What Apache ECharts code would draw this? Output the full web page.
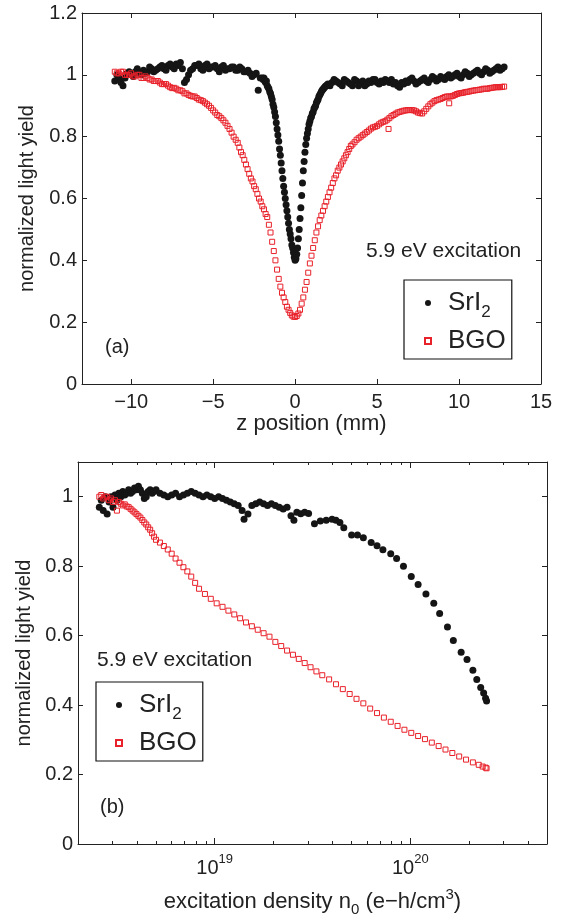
<!DOCTYPE html>
<html>
<head>
<meta charset="utf-8">
<script src="https://cdn.jsdelivr.net/npm/echarts@6/dist/echarts.min.js"></script>
<style>
html,body{margin:0;padding:0;background:#fff;}
#chart{width:562px;height:919px;}
</style>
</head>
<body>
<div id="chart"></div>
<script>
// ---------- Panel (a): light yield vs z position ----------
const srZ = [-11,-10.75,-10.5,-10.25,-10,-9.75,-9.5,-9.25,-9,-8.75,-8.5,-8.25,-8,-7.75,-7.5,-7.25,-7,-6.75,-6.5,-6.25,-6,-5.75,-5.5,-5.25,-5,-4.75,-4.5,-4.25,-4,-3.75,-3.5,-3.25,-3,-2.75,-2.5,-2.25,
  -2,-1.95,-1.9,-1.85,-1.8,-1.75,-1.7,-1.65,-1.6,-1.55,-1.5,-1.45,-1.4,-1.35,-1.3,-1.25,-1.2,-1.15,-1.1,-1.05,-1,-0.95,-0.9,-0.85,-0.8,-0.75,-0.7,-0.65,-0.6,-0.55,-0.5,-0.45,-0.4,-0.35,-0.3,-0.25,-0.2,-0.15,-0.1,-0.05,0,
  0.05,0.1,0.15,0.2,0.25,0.3,0.35,0.4,0.45,0.5,0.55,0.6,0.65,0.7,0.75,0.8,0.85,0.9,0.95,1,1.05,1.1,1.15,1.2,1.25,1.3,1.35,1.4,1.45,1.5,1.55,1.6,1.65,1.7,1.75,1.8,1.85,1.9,1.95,2,
  2.25,2.5,2.75,3,3.25,3.5,3.75,4,4.25,4.5,4.75,5,5.25,5.5,5.75,6,6.25,6.5,6.75,7,7.25,7.5,7.75,8,8.25,8.5,8.75,9,9.25,9.5,9.75,10,10.25,10.5,10.75,11,11.25,11.5,11.75,12,12.25,12.5,12.75];
const srYieldZ = [0.98,0.99,0.965,1.005,1.0,1.01,1.005,1.015,1.01,1.02,1.015,1.025,1.02,1.03,1.025,1.035,1.04,0.975,1.0,1.02,1.03,1.02,1.03,1.02,1.025,1.02,1.025,1.015,1.02,1.025,1.015,1.02,1.01,1.005,1.0,0.95,
  0.99,0.985,0.99,0.98,0.975,0.98,0.965,0.96,0.955,0.945,0.94,0.93,0.92,0.905,0.895,0.88,0.865,0.845,0.825,0.805,0.785,0.76,0.74,0.715,0.69,0.665,0.64,0.62,0.6,0.58,0.56,0.54,0.52,0.5,0.485,0.47,0.45,0.44,0.425,0.41,0.40,
  0.405,0.42,0.44,0.47,0.5,0.535,0.57,0.61,0.65,0.69,0.72,0.75,0.775,0.795,0.81,0.825,0.84,0.85,0.86,0.865,0.875,0.88,0.89,0.895,0.9,0.91,0.915,0.92,0.93,0.935,0.94,0.945,0.95,0.953,0.957,0.96,0.963,0.965,0.967,0.97,
  0.975,0.98,0.97,0.985,0.975,0.965,0.98,0.975,0.965,0.98,0.985,0.975,0.98,0.985,0.975,0.97,0.965,0.975,0.98,0.985,0.98,0.975,0.985,0.98,0.985,0.99,0.985,0.99,0.995,0.99,1.0,0.995,1.0,1.005,1.0,1.01,1.005,1.01,1.015,1.01,1.02,1.015,1.025];
// in-between scan positions on the flat wings
const srZMid = [-10.875,-10.625,-10.375,-10.125,-9.875,-9.625,-9.375,-9.125,-8.875,-8.625,-8.375,-8.125,-7.875,-7.625,-7.375,-7.125,-6.875,-6.625,-6.375,-6.125,-5.875,-5.625,-5.375,-5.125,-4.875,-4.625,-4.375,-4.125,-3.875,-3.625,-3.375,-3.125,-2.875,-2.625,-2.375,-2.125,
  2.125,2.375,2.625,2.875,3.125,3.375,3.625,3.875,4.125,4.375,4.625,4.875,5.125,5.375,5.625,5.875,6.125,6.375,6.625,6.875,7.125,7.375,7.625,7.875,8.125,8.375,8.625,8.875,9.125,9.375,9.625,9.875,10.125,10.375,10.625,10.875,11.125,11.375,11.625,11.875,12.125,12.375,12.625];
const srYieldZMid = [1.0,0.975,0.99,1.01,0.995,1.02,1.0,1.005,1.025,1.01,1.02,1.03,1.015,1.035,1.02,1.03,1.02,0.985,1.015,1.03,1.035,1.015,1.035,1.025,1.03,1.01,1.03,1.02,1.025,1.015,1.025,1.01,1.015,0.995,1.005,0.99,
  0.965,0.985,0.975,0.965,0.98,0.97,0.985,0.965,0.98,0.97,0.975,0.985,0.97,0.975,0.98,0.985,0.975,0.96,0.97,0.975,0.99,0.97,0.98,0.99,0.975,0.995,0.98,0.995,0.985,1.0,0.995,1.005,0.99,1.01,0.995,1.005,1.015,1.0,1.02,1.005,1.015,1.025,1.02];

const bgoZ = [-11,-10.75,-10.5,-10.25,-10,-9.75,-9.5,-9.25,-9,-8.75,-8.5,-8.25,-8,-7.75,-7.5,-7.25,-7,-6.75,-6.5,-6.25,-6,-5.75,-5.5,-5.25,-5,-4.75,-4.5,-4.25,-4,-3.75,-3.5,
  -3.4,-3.3,-3.2,-3.1,-3,-2.9,-2.8,-2.7,-2.6,-2.5,-2.4,-2.3,-2.2,-2.1,-2,-1.9,-1.8,-1.7,-1.6,-1.5,-1.4,-1.3,-1.2,-1.1,-1,-0.9,-0.8,-0.7,-0.6,-0.5,-0.4,-0.3,-0.2,-0.1,0,
  0.1,0.2,0.3,0.4,0.5,0.6,0.7,0.8,0.9,1,1.1,1.2,1.3,1.4,1.5,1.6,1.7,1.8,1.9,2,2.1,2.2,2.3,2.4,2.5,2.6,2.7,2.8,2.9,3,3.1,3.2,3.3,3.4,
  3.5,3.75,4,4.25,4.5,4.75,5,5.25,5.5,5.75,6,6.25,6.5,6.75,7,7.25,7.5,7.75,8,8.25,8.5,8.75,9,9.25,9.5,9.75,10,10.25,10.5,10.75,11,11.25,11.5,11.75,12,12.25,12.5,12.75,
  5.7,9.4];
const bgoYieldZ = [1.01,1.005,1.01,1.0,1.005,0.995,1.0,0.99,0.99,0.985,0.98,0.975,0.97,0.965,0.957,0.955,0.95,0.94,0.935,0.93,0.925,0.918,0.91,0.9,0.885,0.87,0.86,0.845,0.825,0.8,0.78,
  0.765,0.75,0.74,0.725,0.71,0.695,0.68,0.665,0.655,0.64,0.63,0.615,0.6,0.59,0.575,0.565,0.55,0.54,0.515,0.49,0.46,0.43,0.4,0.37,0.34,0.315,0.295,0.28,0.265,0.25,0.24,0.23,0.222,0.218,0.217,
  0.22,0.228,0.24,0.26,0.28,0.305,0.33,0.36,0.39,0.415,0.44,0.465,0.49,0.51,0.53,0.545,0.56,0.575,0.59,0.605,0.62,0.635,0.65,0.665,0.675,0.69,0.7,0.71,0.72,0.73,0.74,0.75,0.76,0.77,
  0.775,0.79,0.8,0.81,0.82,0.83,0.835,0.845,0.85,0.86,0.87,0.878,0.882,0.885,0.886,0.885,0.878,0.875,0.89,0.905,0.915,0.92,0.925,0.93,0.93,0.935,0.94,0.942,0.945,0.948,0.95,0.952,0.955,0.955,0.958,0.96,0.96,0.962,
  0.825,0.908];
const bgoZMid = [-10.875,-10.625,-10.375,-10.125,-9.875,-9.625,-9.375,-9.125,-8.875,-8.625,-8.375,-8.125,-7.875,-7.625,-7.375,-7.125,-6.875,-6.625,-6.375,-6.125,-5.875,-5.625,-5.375,-5.125,-4.875,-4.625,-4.375,-4.125,-3.875,-3.625,
  3.625,3.875,4.125,4.375,4.625,4.875,5.125,5.375,5.625,5.875,6.125,6.375,6.625,6.875,7.125,7.375,7.625,7.875,8.125,8.375,8.625,8.875,9.125,9.375,9.625,9.875,10.125,10.375,10.625,10.875,11.125,11.375,11.625,11.875,12.125,12.375,12.625];
const bgoYieldZMid = [1.005,1.01,1.0,1.0,0.995,1.0,0.99,0.995,0.985,0.98,0.98,0.97,0.97,0.96,0.958,0.95,0.947,0.94,0.932,0.93,0.92,0.915,0.905,0.893,0.878,0.866,0.853,0.835,0.813,0.79,
  0.782,0.795,0.805,0.815,0.826,0.832,0.84,0.848,0.855,0.866,0.874,0.88,0.884,0.886,0.886,0.882,0.876,0.882,0.898,0.91,0.918,0.922,0.928,0.93,0.932,0.938,0.941,0.944,0.946,0.949,0.951,0.953,0.955,0.957,0.959,0.96,0.961];

const zTicks = [-10,-5,0,5,10,15];
const yTicksA = [0,0.2,0.4,0.6,0.8,1,1.2];

// ---------- Panel (b): light yield vs excitation density (log10 of n0 in e-h/cm^3) ----------
const srLogN = [18.41,18.42,18.43,18.44,18.45,18.46,18.47,18.48,18.49,18.50,18.51,18.52,18.53,18.54,18.55,18.56,18.57,18.58,18.59,18.60,18.61,18.62,18.63,18.64,18.65,18.66,18.67,18.68,18.69,18.70,
  18.72,18.74,18.76,18.78,18.80,18.82,18.84,18.86,18.88,18.90,18.92,18.94,18.96,18.98,19.00,19.02,19.04,19.06,19.08,19.10,19.12,
  19.14,19.15,19.17,19.19,19.21,19.23,19.25,19.27,19.29,19.31,19.33,19.35,19.37,19.39,19.405,19.42,19.44,19.46,19.48,19.51,19.54,19.57,19.60,19.62,19.64,19.66,19.70,19.73,19.76,19.80,19.83,19.86,19.90,19.93,19.965,20.005,20.04,20.08,20.12,20.15,20.19,20.22,20.26,20.29,20.32,20.34,20.36,20.375,20.385,20.39];
const srYieldN = [0.97,0.99,0.96,1.0,0.95,0.985,1.0,0.97,1.005,0.99,1.01,1.0,1.015,1.005,1.01,1.02,1.01,1.015,1.025,1.02,1.03,1.02,1.01,0.995,1.0,1.015,1.02,1.01,1.015,1.02,
  1.01,1.005,1.0,1.005,1.01,1.0,1.005,1.01,1.015,1.01,1.005,1.0,1.005,1.0,0.995,1.0,0.995,0.99,0.985,0.98,0.975,
  0.96,0.935,0.95,0.975,0.98,0.985,0.98,0.975,0.98,0.975,0.97,0.965,0.97,0.945,0.932,0.955,0.951,0.955,0.952,0.922,0.93,0.932,0.935,0.932,0.926,0.911,0.89,0.89,0.882,0.868,0.859,0.847,0.836,0.822,0.80,0.77,0.747,0.72,0.693,0.664,0.625,0.586,0.552,0.531,0.50,0.474,0.451,0.435,0.42,0.412];

const bgoLogN = [18.41,18.42,18.43,18.44,18.45,18.46,18.47,18.48,18.49,18.50,18.51,18.52,18.53,18.54,18.55,18.56,18.57,18.58,18.59,18.60,18.61,18.62,18.63,18.64,18.65,18.66,18.67,18.68,18.69,18.70,
  18.72,18.74,18.76,18.78,18.80,18.82,18.84,18.86,18.88,18.90,18.92,
  18.95,18.98,19.01,19.04,19.07,19.10,19.13,19.16,19.19,19.22,19.25,19.28,19.31,19.34,19.37,19.40,19.43,19.46,19.49,19.52,19.55,19.585,19.62,19.655,19.69,19.725,19.76,19.795,19.83,19.865,19.90,19.935,19.97,20.005,20.04,20.075,20.11,20.145,20.18,20.215,20.25,20.285,20.32,20.35,20.37,20.385,20.39];
const bgoYieldN = [1.0,1.005,0.995,1.0,1.0,0.99,0.995,0.985,0.99,0.96,0.985,0.98,0.975,0.978,0.972,0.97,0.965,0.96,0.955,0.95,0.945,0.94,0.933,0.926,0.92,0.912,0.905,0.895,0.885,0.876,
  0.868,0.858,0.848,0.836,0.822,0.81,0.797,0.785,0.77,0.752,0.735,
  0.72,0.706,0.693,0.683,0.672,0.661,0.65,0.638,0.627,0.617,0.607,0.597,0.582,0.57,0.557,0.545,0.533,0.521,0.509,0.497,0.486,0.474,0.46,0.446,0.432,0.418,0.405,0.39,0.377,0.364,0.352,0.34,0.329,0.32,0.311,0.302,0.292,0.282,0.272,0.262,0.252,0.243,0.235,0.228,0.223,0.22,0.218];

const nMajorTicks = [1e19,1e20];
const nMinorTicks = [2e18,3e18,4e18,5e18,6e18,7e18,8e18,9e18,2e19,3e19,4e19,5e19,6e19,7e19,8e19,9e19,2e20,3e20,4e20,5e20];
const yTicksB = [0,0.2,0.4,0.6,0.8,1];

// ---------- build ----------
const FONT = '"Liberation Sans", Arial, Helvetica, sans-serif';
const TXT = '#222';
const BLACK = '#151515';
const RED = '#e8212a';

function zip(a,b){ return a.map((v,i)=>[v,b[i]]); }
const srA = zip(srZ, srYieldZ).concat(zip(srZMid, srYieldZMid));
const bgoA = zip(bgoZ, bgoYieldZ).concat(zip(bgoZMid, bgoYieldZMid));
const srB = zip(srLogN.map(e=>Math.pow(10,e)), srYieldN);
const bgoB = zip(bgoLogN.map(e=>Math.pow(10,e)), bgoYieldN);

const lineStyle = {color:'#222', width:1};
const minusFmt = v => (v < 0 ? '\u2212' + Math.abs(v) : String(v));

function xAxisA(pos, show){
  return {
    type:'value', gridIndex:0, position:pos, min:-13, max:15,
    axisLine:{show:true, onZero:false, lineStyle},
    axisTick:{show:true, inside:true, length:5, lineStyle, customValues:zTicks},
    axisLabel:{show:show, customValues:zTicks, formatter:minusFmt, fontFamily:FONT, fontSize:20, color:TXT, margin:8},
    splitLine:{show:false}
  };
}
function yAxis(grid, pos, show, max, ticks, extra){
  return Object.assign({
    type:'value', gridIndex:grid, position:pos, min:0, max:max,
    axisLine:{show:true, onZero:false, lineStyle},
    axisTick:{show:true, inside:true, length:5, lineStyle, customValues:ticks},
    axisLabel:{show:show, customValues:ticks, fontFamily:FONT, fontSize:20, color:TXT, margin:5},
    splitLine:{show:false}
  }, extra||{});
}
function xAxisB(pos, ticks, len, showLine, showLabel, extra){
  return Object.assign({
    type:'log', logBase:10, gridIndex:1, position:pos, min:2e18, max:5e20,
    axisLine:{show:showLine, onZero:false, lineStyle},
    axisTick:{show:true, inside:true, length:len, lineStyle, customValues:ticks},
    axisLabel:{show:showLabel, customValues:nMajorTicks, margin:9,
      formatter: v => '{b|10}{p|' + Math.round(Math.log10(v)) + '}',
      rich:{ b:{fontFamily:FONT, fontSize:20, color:TXT, lineHeight:30},
             p:{fontFamily:FONT, fontSize:13, color:TXT, lineHeight:8, verticalAlign:'top'} } },
    splitLine:{show:false}, minorTick:{show:false}
  }, extra||{});
}

const legendRich = {
  m:{fontFamily:FONT, fontSize:26, color:TXT, lineHeight:36, height:36, padding:[0,0,0,12]},
  s:{fontFamily:FONT, fontSize:17, color:TXT, lineHeight:8, verticalAlign:'bottom'}
};
function legend(left, top, padLeft){
  return {
    orient:'vertical', left:left, top:top, itemWidth:6, itemHeight:6, itemGap:2,
    padding:[5,6,0,padLeft], borderColor:'#111', borderWidth:1.2, backgroundColor:'#fff',
    data:['SrI2','BGO'],
    formatter: n => n === 'SrI2' ? '{m|SrI}{s|2}' : '{m|BGO}',
    textStyle:{rich:legendRich, fontFamily:FONT, fontSize:26, color:TXT, lineHeight:36},
    selectedMode:false
  };
}

const chart = echarts.init(document.getElementById('chart'), null, {renderer:'canvas'});
chart.setOption({
  animation:false,
  backgroundColor:'#fff',
  grid:[
    {left:82, top:13, width:459, height:371},
    {left:78, top:462, width:469, height:382}
  ],
  xAxis:[
    Object.assign(xAxisA('bottom', true), {name:'z position (mm)', nameLocation:'middle', nameGap:29,
      nameTextStyle:{fontFamily:FONT, fontSize:22, color:TXT}}),
    xAxisA('top', false),
    xAxisB('bottom', nMajorTicks, 6, true, true, {
      name:'{a|excitation density n}{b|0}{a| (e\u2212h/cm}{c|3}{a|)}', nameLocation:'middle', nameGap:43,
      nameTextStyle:{rich:{
        a:{fontFamily:FONT, fontSize:22, color:TXT, lineHeight:30},
        b:{fontFamily:FONT, fontSize:15, color:TXT, lineHeight:10, verticalAlign:'bottom'},
        c:{fontFamily:FONT, fontSize:15, color:TXT, lineHeight:10, verticalAlign:'top'}
      }}}),
    xAxisB('bottom', nMinorTicks, 3, false, false),
    xAxisB('top', nMajorTicks, 6, true, false),
    xAxisB('top', nMinorTicks, 3, false, false)
  ],
  yAxis:[
    yAxis(0, 'left', true, 1.2, yTicksA, {name:'normalized light yield', nameLocation:'middle', nameGap:45,
      nameTextStyle:{fontFamily:FONT, fontSize:20, color:TXT}}),
    yAxis(0, 'right', false, 1.2, yTicksA),
    yAxis(1, 'left', true, 1.1, yTicksB, {name:'normalized light yield', nameLocation:'middle', nameGap:44,
      nameTextStyle:{fontFamily:FONT, fontSize:20, color:TXT}}),
    yAxis(1, 'right', false, 1.1, yTicksB)
  ],
  legend:[legend(404, 280, 20), legend(96, 682, 19)],
  series:[
    {name:'SrI2', type:'scatter', xAxisIndex:0, yAxisIndex:0, data:srA, symbol:'circle', symbolSize:7,
      itemStyle:{color:BLACK, opacity:1}, z:2},
    {name:'BGO', type:'scatter', xAxisIndex:0, yAxisIndex:0, data:bgoA, symbol:'rect', symbolSize:5,
      itemStyle:{color:'rgba(255,255,255,0)', borderColor:RED, borderWidth:1, opacity:1}, z:3},
    {name:'SrI2', type:'scatter', xAxisIndex:2, yAxisIndex:2, data:srB, symbol:'circle', symbolSize:7,
      itemStyle:{color:BLACK, opacity:1}, z:2},
    {name:'BGO', type:'scatter', xAxisIndex:2, yAxisIndex:2, data:bgoB, symbol:'rect', symbolSize:5,
      itemStyle:{color:'rgba(255,255,255,0)', borderColor:RED, borderWidth:1, opacity:1}, z:3}
  ],
  graphic:[
    {type:'text', left:366, top:241, style:{text:'5.9 eV excitation', font:'21px ' + FONT, fill:TXT}},
    {type:'text', left:105, top:337, style:{text:'(a)', font:'20px ' + FONT, fill:TXT}},
    {type:'text', left:97, top:650, style:{text:'5.9 eV excitation', font:'21px ' + FONT, fill:TXT}},
    {type:'text', left:100, top:797, style:{text:'(b)', font:'20px ' + FONT, fill:TXT}}
  ]
});
</script>
</body>
</html>
